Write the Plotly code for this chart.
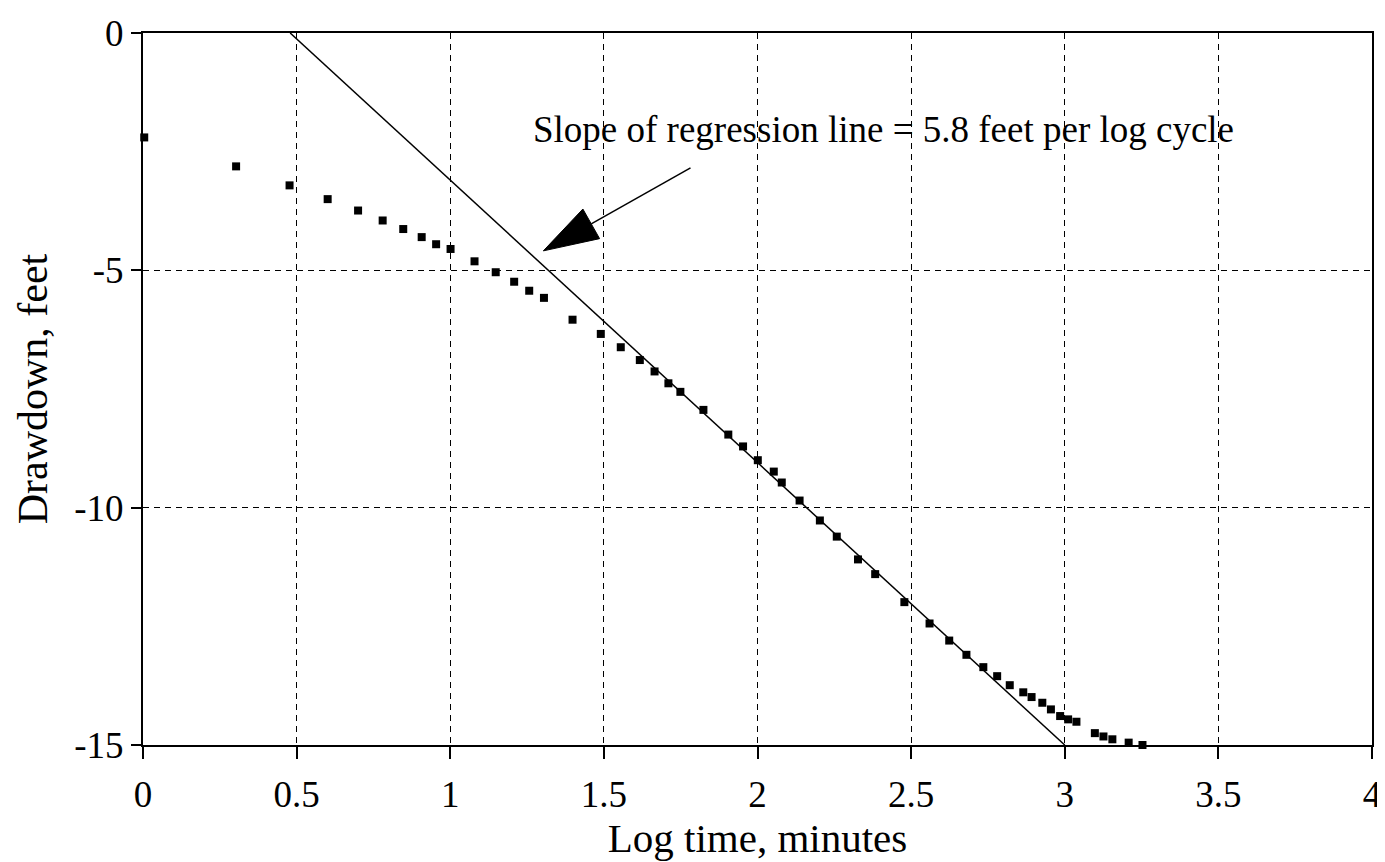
import plotly.graph_objects as go
import math

# ---- data ----
log_time = [0.004, 0.303, 0.477, 0.601, 0.700, 0.780, 0.847, 0.907, 0.954, 1.001,
            1.079, 1.148, 1.208, 1.257, 1.305, 1.398, 1.490, 1.555, 1.617, 1.665,
            1.710, 1.749, 1.824, 1.905, 1.953, 2.001, 2.053, 2.079, 2.137, 2.203,
            2.258, 2.327, 2.383, 2.478, 2.560, 2.624, 2.680, 2.735, 2.780, 2.821,
            2.865, 2.892, 2.927, 2.955, 2.985, 3.011, 3.038, 3.098, 3.126, 3.155,
            3.208, 3.253]
drawdown = [-2.20, -2.81, -3.21, -3.50, -3.74, -3.95, -4.13, -4.30, -4.45, -4.55,
            -4.81, -5.04, -5.24, -5.43, -5.58, -6.04, -6.34, -6.62, -6.89, -7.13,
            -7.38, -7.56, -7.94, -8.46, -8.71, -9.00, -9.24, -9.47, -9.85, -10.27,
            -10.61, -11.09, -11.40, -11.99, -12.44, -12.80, -13.10, -13.36, -13.55, -13.74,
            -13.89, -13.99, -14.11, -14.25, -14.39, -14.46, -14.51, -14.75, -14.82, -14.88,
            -14.95, -15.00]

reg_x = [0.479, 3.0]
reg_y = [0.0, -15.0]

x_ticks = [0, 0.5, 1, 1.5, 2, 2.5, 3, 3.5, 4]
x_tick_labels = ["0", "0.5", "1", "1.5", "2", "2.5", "3", "3.5", "4"]
y_ticks = [0, -5, -10, -15]
y_tick_labels = ["0", "-5", "-10", "-15"]

annot_text = "Slope of regression line = 5.8 feet per log cycle"
annot_pos = (1.262, -2.04)
arrow_tail = (1.782, -2.84)
arrow_tip = (1.303, -4.59)

# ---- layout geometry (page shows figure offset by ~8px body margin) ----
W, H = 1385, 862
ML, MR, MT, MB = 135, 21, 25, 125
XR = [0, 4]
YR = [-15, 0]
px_x = (W - ML - MR) / (XR[1] - XR[0])
px_y = (H - MT - MB) / (YR[1] - YR[0])

FONT = "Liberation Serif, Times New Roman, serif"

fig = go.Figure()

# regression line
fig.add_trace(go.Scatter(x=reg_x, y=reg_y, mode="lines",
                         line=dict(color="black", width=1.5),
                         hoverinfo="skip", showlegend=False, cliponaxis=False))

# data points
fig.add_trace(go.Scatter(x=log_time, y=drawdown, mode="markers",
                         marker=dict(symbol="square", size=8, color="black"),
                         showlegend=False, cliponaxis=False))

# arrow: compute head triangle in pixel space, convert back to data
def to_px(p):
    return ((p[0] - XR[0]) * px_x, -(p[1] - YR[1]) * px_y)

def to_data(q):
    return (q[0] / px_x + XR[0], -q[1] / px_y + YR[1])

tx, ty = to_px(arrow_tail)
hx, hy = to_px(arrow_tip)
L = math.hypot(hx - tx, hy - ty)
ux, uy = (hx - tx) / L, (hy - ty) / L
head_len, head_half = 55, 17
bx, by = hx - ux * head_len, hy - uy * head_len
px_, py_ = -uy, ux
p1 = to_data((bx + px_ * head_half, by + py_ * head_half))
p2 = to_data((bx - px_ * head_half, by - py_ * head_half))
base = to_data((bx, by))

fig.add_trace(go.Scatter(x=[arrow_tail[0], base[0]], y=[arrow_tail[1], base[1]],
                         mode="lines", line=dict(color="black", width=1.5),
                         hoverinfo="skip", showlegend=False))
fig.add_trace(go.Scatter(x=[arrow_tip[0], p1[0], p2[0], arrow_tip[0]],
                         y=[arrow_tip[1], p1[1], p2[1], arrow_tip[1]],
                         mode="lines", fill="toself", fillcolor="black",
                         line=dict(color="black", width=1),
                         hoverinfo="skip", showlegend=False))

fig.add_annotation(x=annot_pos[0], y=annot_pos[1], xref="x", yref="y", text=annot_text,
                   showarrow=False, xanchor="left", yanchor="middle",
                   font=dict(family=FONT, size=37, color="black"))

axis_common = dict(showline=True, linecolor="black", mirror=True,
                   showgrid=True, gridcolor="black", gridwidth=1,
                   griddash="6px,5px", zeroline=False,
                   ticks="outside", tickcolor="black", tickwidth=1.5,
                   tickfont=dict(family=FONT, size=37, color="black"))

fig.update_xaxes(range=XR, tickvals=x_ticks, ticktext=x_tick_labels,
                 ticklen=12, linewidth=1.5, ticklabelstandoff=4,
                 title=dict(text="Log time, minutes", standoff=0,
                            font=dict(family=FONT, size=41, color="black")),
                 **axis_common)
fig.update_yaxes(range=YR, tickvals=y_ticks, ticktext=y_tick_labels,
                 ticklen=10, linewidth=2,
                 title=dict(text="Drawdown, feet", standoff=14,
                            font=dict(family=FONT, size=42, color="black")),
                 **axis_common)

fig.update_layout(width=W, height=H,
                  margin=dict(l=ML, r=MR, t=MT, b=MB, autoexpand=False),
                  plot_bgcolor="white", paper_bgcolor="white",
                  showlegend=False)

fig.write_html("out.html")
